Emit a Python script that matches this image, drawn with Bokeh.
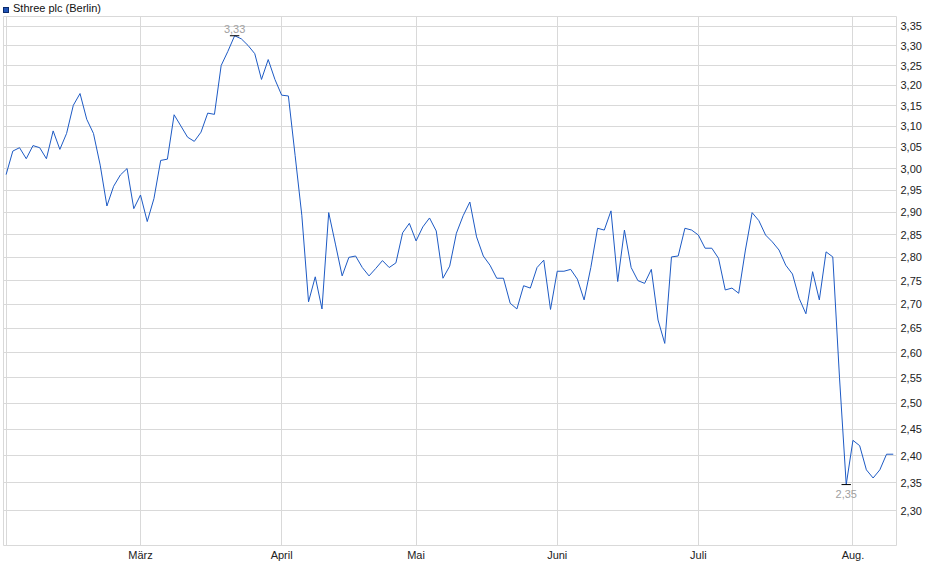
import numpy as np
from bokeh.plotting import figure
from bokeh.layouts import column
from bokeh.models import Range1d, FixedTicker, CustomJSTickFormatter, Div
from bokeh.core.properties import value
from bokeh.embed import file_html
from bokeh.resources import INLINE

title_text = "Sthree plc (Berlin)"

# daily closing prices (EUR), one per trading day, 3 Feb .. 11 Aug
prices = [
    2.986, 3.041, 3.049, 3.023, 3.054, 3.049, 3.023, 3.089, 3.045, 3.083,
    3.151, 3.180, 3.117, 3.083, 3.008, 2.914, 2.959, 2.985, 3.000, 2.908,
    2.939, 2.879, 2.931, 3.019, 3.022, 3.128, 3.101, 3.074, 3.064, 3.086,
    3.132, 3.129, 3.250, 3.286, 3.326, 3.318, 3.301, 3.280, 3.215, 3.265,
    3.215, 3.176, 3.174, 3.031, 2.893, 2.705, 2.758, 2.690, 2.899, 2.829,
    2.760, 2.800, 2.803, 2.778, 2.760, 2.776, 2.793, 2.778, 2.788, 2.854,
    2.875, 2.836, 2.867, 2.887, 2.858, 2.755, 2.781, 2.853, 2.892, 2.923,
    2.845, 2.803, 2.783, 2.755, 2.755, 2.702, 2.690, 2.739, 2.734, 2.778,
    2.794, 2.689, 2.770, 2.770, 2.774, 2.753, 2.709, 2.778, 2.864, 2.860,
    2.903, 2.748, 2.860, 2.778, 2.750, 2.744, 2.774, 2.667, 2.619, 2.801,
    2.803, 2.864, 2.860, 2.849, 2.820, 2.820, 2.798, 2.730, 2.734, 2.723,
    2.816, 2.899, 2.881, 2.849, 2.834, 2.816, 2.783, 2.764, 2.712, 2.680,
    2.769, 2.709, 2.812, 2.801, 2.550, 2.347, 2.429, 2.419, 2.374, 2.359,
    2.374, 2.403, 2.403,
]

# trading-day index of the first trading day of each month
month_idx = [0, 20, 41, 61, 82, 103, 126]
month_labels = ["", "März", "April", "Mai", "Juni", "Juli", "Aug."]

y_ticks = [2.30, 2.35, 2.40, 2.45, 2.50, 2.55, 2.60, 2.65, 2.70, 2.75, 2.80,
           2.85, 2.90, 2.95, 3.00, 3.05, 3.10, 3.15, 3.20, 3.25, 3.30, 3.35]

FONT = "Liberation Sans"
GRID = "#d9d9d9"
W = 924
HEAD_H = 15
FIG_H = 548

idx = list(range(len(prices)))

header = Div(
    text=('<div style="font-family:\'Liberation Sans\',Arial,sans-serif;font-size:11px;'
          'color:#111;line-height:12px;white-space:nowrap;padding:1px 0 0 3px;">'
          '<span style="display:inline-block;width:6px;height:6px;background:#2155b8;'
          'border:1px solid #0b2a6b;vertical-align:-1px;margin-right:4px;"></span>'
          + title_text + '</div>'),
    width=W, height=HEAD_H, margin=(0, 0, 0, 0))

p = figure(width=W, height=FIG_H, output_backend="svg", toolbar_location=None,
           y_axis_type="log", y_axis_location="right",
           x_range=Range1d(-0.386, 132.48), y_range=Range1d(2.2385, 3.3761),
           min_border_left=3, min_border_right=26, min_border_top=1,
           min_border_bottom=17, margin=(0, 0, 0, 0))

p.background_fill_color = "white"
p.border_fill_color = "white"
p.outline_line_color = GRID
p.grid.grid_line_color = GRID
p.grid.grid_line_width = 1

p.xaxis.ticker = FixedTicker(ticks=month_idx)
p.xaxis.major_label_overrides = {m: lab for m, lab in zip(month_idx, month_labels)}
p.yaxis.ticker = FixedTicker(ticks=y_ticks)
p.yaxis.formatter = CustomJSTickFormatter(code="return tick.toFixed(2).replace('.', ',');")

for ax in (p.xaxis[0], p.yaxis[0]):
    ax.axis_line_color = None
    ax.major_tick_line_color = None
    ax.minor_tick_line_color = None
    ax.major_tick_out = 0
    ax.major_tick_in = 0
    ax.major_label_text_font = FONT
    ax.major_label_text_font_size = "11px"
    ax.major_label_text_color = "#222222"
p.xaxis.major_label_standoff = 3
p.yaxis.major_label_standoff = 4

p.line(idx, prices, line_color="#1d5ac4", line_width=1)

imax = int(np.argmax(prices))
imin = int(np.argmin(prices))
fmt = lambda v: f"{v:.2f}".replace(".", ",")

p.segment(x0=[imax - 0.7, imin - 0.7], x1=[imax + 0.7, imin + 0.7],
          y0=[prices[imax], prices[imin]], y1=[prices[imax], prices[imin]],
          line_color="black", line_width=1)
p.text(x=[imax], y=[prices[imax]], text=[fmt(prices[imax])],
       text_font=value(FONT), text_font_size="11px", text_color="#a0a0a0",
       text_align="center", text_baseline="bottom", y_offset=-3)
p.text(x=[imin], y=[prices[imin]], text=[fmt(prices[imin])],
       text_font=value(FONT), text_font_size="11px", text_color="#a0a0a0",
       text_align="center", text_baseline="top", y_offset=5)

layout = column(header, p, spacing=0, margin=(0, 0, 0, 0))

open("out.html", "w").write(file_html(layout, INLINE))
